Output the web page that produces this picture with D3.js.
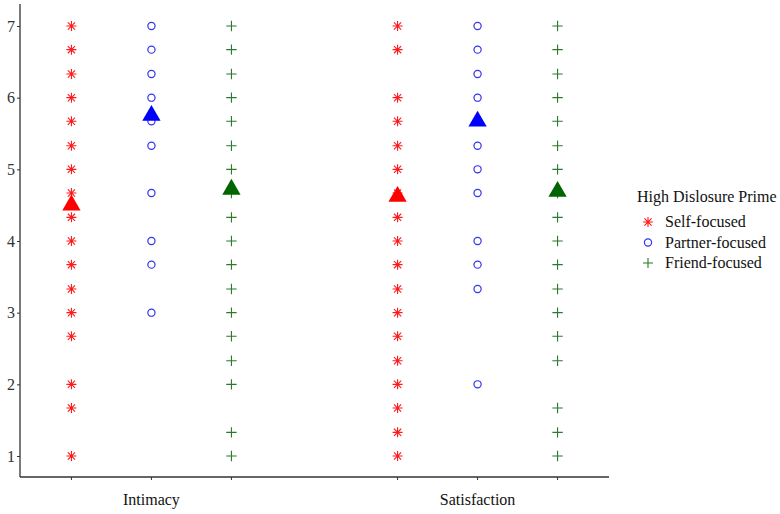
<!DOCTYPE html>
<html><head><meta charset="utf-8">
<script src="https://cdn.jsdelivr.net/npm/d3@7"></script>
<style>body{margin:0;background:#fff;} text{font-family:"Liberation Serif","Times New Roman",serif;}</style>
</head><body><svg id="c" width="780" height="514"></svg>
<script>
const categories = ["Intimacy", "Satisfaction"];
const groups = ["Self-focused", "Partner-focused", "Friend-focused"];
const legendTitle = "High Dislosure Prime";
const yTicks = [1, 2, 3, 4, 5, 6, 7];

const intimacySelf    = [7, 6.67, 6.33, 6, 5.67, 5.33, 5, 4.67, 4.33, 4, 3.67, 3.33, 3, 2.67, 2, 1.67, 1];
const intimacyPartner = [7, 6.67, 6.33, 6, 5.67, 5.33, 4.67, 4, 3.67, 3];
const intimacyFriend  = [7, 6.67, 6.33, 6, 5.67, 5.33, 5, 4.67, 4.33, 4, 3.67, 3.33, 3, 2.67, 2.33, 2, 1.33, 1];
const satisfactionSelf    = [7, 6.67, 6, 5.67, 5.33, 5, 4.67, 4.33, 4, 3.67, 3.33, 3, 2.67, 2.33, 2, 1.67, 1.33, 1];
const satisfactionPartner = [7, 6.67, 6.33, 6, 5.67, 5.33, 5, 4.67, 4, 3.67, 3.33, 2];
const satisfactionFriend  = [7, 6.67, 6.33, 6, 5.67, 5.33, 5, 4.67, 4.33, 4, 3.67, 3.33, 3, 2.67, 2.33, 1.67, 1.33, 1];

const meansIntimacy     = [4.5, 5.75, 4.72];
const meansSatisfaction = [4.62, 5.67, 4.69];

const colors = ["#ff0000", "#0000ff", "#006400"];
const pointColors = ["#ff1a1a", "#3333ee", "#2a7a2a"];

const points = [
  ...intimacySelf.map(v => ({cat: "Intimacy", g: 0, v})),
  ...intimacyPartner.map(v => ({cat: "Intimacy", g: 1, v})),
  ...intimacyFriend.map(v => ({cat: "Intimacy", g: 2, v})),
  ...satisfactionSelf.map(v => ({cat: "Satisfaction", g: 0, v})),
  ...satisfactionPartner.map(v => ({cat: "Satisfaction", g: 1, v})),
  ...satisfactionFriend.map(v => ({cat: "Satisfaction", g: 2, v})),
];
const means = [
  ...meansIntimacy.map((v, g) => ({cat: "Intimacy", g, v})),
  ...meansSatisfaction.map((v, g) => ({cat: "Satisfaction", g, v})),
];

const svg = d3.select("#c");
const x0 = 20, x1 = 609, yTop = 4, yBot = 477;
const x = d3.scalePoint().domain(categories).range([x0, x1]).padding(0.403);
const xo = d3.scalePoint().domain(d3.range(groups.length)).range([-80, 80]);
const y = d3.scaleLinear().domain([1, 7]).range([456, 26]);
const px = d => x(d.cat) + xo(d.g);

// axes
const axisColor = "#333";
svg.append("line").attr("x1", x0).attr("x2", x0).attr("y1", yTop).attr("y2", yBot)
  .attr("stroke", axisColor).attr("stroke-width", 1.3);
svg.append("line").attr("x1", x0).attr("x2", x1).attr("y1", yBot).attr("y2", yBot)
  .attr("stroke", axisColor).attr("stroke-width", 1.3);

const yAxis = svg.append("g").attr("transform", `translate(${x0},0)`)
  .call(d3.axisLeft(y).tickValues(yTicks).tickFormat(d3.format("d")).tickSize(3).tickPadding(2));
yAxis.select(".domain").remove();
yAxis.selectAll("line").attr("stroke", axisColor);
yAxis.selectAll("text").attr("font-size", 16).attr("fill", "#333")
  .style("font-family", "'Liberation Serif',serif");

// x ticks at each group position
const combos = [];
categories.forEach(c => groups.forEach((_, g) => combos.push({cat: c, g})));
svg.append("g").selectAll("line").data(combos).join("line")
  .attr("x1", px).attr("x2", px).attr("y1", yBot).attr("y2", yBot + 3)
  .attr("stroke", axisColor);
svg.append("g").selectAll("text").data(categories).join("text")
  .attr("x", d => x(d)).attr("y", 505).attr("text-anchor", "middle")
  .attr("font-size", 16).attr("fill", "#111").text(d => d);

// marker paths
function markerPath(g, s) {
  if (g === 0) { // asterisk: plus + times
    const a = s * 0.72;
    return `M0,${-s}V${s}M${-s},0H${s}M${-a},${-a}L${a},${a}M${-a},${a}L${a},${-a}`;
  }
  if (g === 2) return `M0,${-s}V${s}M${-s},0H${s}`;
  return null;
}

const pg = svg.append("g");
points.forEach(d => {
  if (d.g === 1) {
    pg.append("circle").attr("cx", px(d)).attr("cy", y(d.v)).attr("r", 3.6)
      .attr("fill", "none").attr("stroke", pointColors[1]).attr("stroke-width", 1.2);
  } else {
    pg.append("path").attr("transform", `translate(${px(d)},${y(d.v)})`)
      .attr("d", markerPath(d.g, d.g === 0 ? 5 : 5.2))
      .attr("fill", "none").attr("stroke", pointColors[d.g]).attr("stroke-width", 1.1);
  }
});

// means triangles
const tri = d3.symbol().type(d3.symbolTriangle).size(145);
svg.append("g").selectAll("path").data(means).join("path")
  .attr("transform", d => `translate(${px(d)},${y(d.v)})`)
  .attr("d", tri).attr("fill", d => colors[d.g]);

// legend
const lg = svg.append("g");
lg.append("text").attr("x", 637).attr("y", 202).attr("font-size", 16).attr("fill", "#111").text(legendTitle);
groups.forEach((name, g) => {
  const yy = 222 + g * 20.5;
  if (g === 1) {
    lg.append("circle").attr("cx", 648).attr("cy", yy).attr("r", 3.6)
      .attr("fill", "none").attr("stroke", pointColors[1]).attr("stroke-width", 1.2);
  } else {
    lg.append("path").attr("transform", `translate(648,${yy})`)
      .attr("d", markerPath(g, 5)).attr("fill", "none")
      .attr("stroke", pointColors[g]).attr("stroke-width", 1.1);
  }
  lg.append("text").attr("x", 665).attr("y", yy + 5).attr("font-size", 16).attr("fill", "#111").text(name);
});
</script></body></html>
